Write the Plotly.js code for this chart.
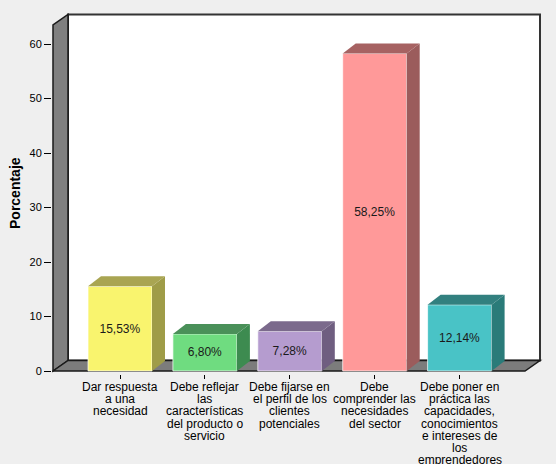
<!DOCTYPE html>
<html><head><meta charset="utf-8">
<script src="https://cdn.plot.ly/plotly-3.0.1.min.js"></script>
<style>html,body{margin:0;padding:0;background:#efefef}</style>
</head><body><div id="chart" style="width:556px;height:464px"></div>
<script>
const categories = [
  "Dar respuesta a una necesidad",
  "Debe reflejar las características del producto o servicio",
  "Debe fijarse en el perfil de los clientes potenciales",
  "Debe comprender las necesidades del sector",
  "Debe poner en práctica las capacidades, conocimientos e intereses de los emprendedores"
];
const tickLines = [
  ["Dar respuesta", "a una", "necesidad"],
  ["Debe reflejar", "las", "características", "del producto o", "servicio"],
  ["Debe fijarse en", "el perfil de los", "clientes", "potenciales"],
  ["Debe", "comprender las", "necesidades", "del sector"],
  ["Debe poner en", "práctica las", "capacidades,", "conocimientos", "e intereses de", "los", "emprendedores"]
];
const values = [15.53, 6.80, 7.28, 58.25, 12.14];
const yTicks = [0, 10, 20, 30, 40, 50, 60];

const frontColors = ['#f9f46e', '#6fdc80', '#b59ccf', '#ff9999', '#49c3c6'];
const sideColors  = ['#9f9c48', '#3d8b50', '#6f5e80', '#9b5c5c', '#2a7b79'];
const topColors   = ['#a9a552', '#4a9059', '#7b6a8c', '#a66262', '#32807f'];

// geometry (styling)
const pxX = 84.9, pxY = 5.45;
const xLeft = (52 - 120) / pxX, xRight = xLeft + 491 / pxX;
const yBottom = -3 / pxY, yTop = (371 - 12) / pxY;
const x0 = (53 - 120) / pxX;           // front-left edge
const xR = (540 - 120) / pxX;          // back-right edge
const wdx = 15 / pxX, wdy = 10.5 / pxY; // wall depth
const bdx = 13 / pxX, bdy = 10 / pxY;   // bar depth
const bw = 64 / pxX;                    // bar width
const frontTop = (371 - 25) / pxY;

const xs = values.map((v, i) => i);
const labels = values.map(v => v.toFixed(2).replace('.', ',') + '%');

const traces = [];
traces.push({
  type: 'bar', x: xs, y: values, width: bw, base: 0,
  marker: {color: frontColors, line: {color: 'rgba(255,255,255,0.7)', width: 1}},
  text: labels, textposition: 'inside', insidetextanchor: 'middle',
  textangle: 0, constraintext: 'none',
  textfont: {family: 'Liberation Sans, Arial, sans-serif', size: 12, color: '#1a1a1a'},
  hoverinfo: 'skip', showlegend: false
});
values.forEach((v, i) => {
  const l = i - bw / 2, r = i + bw / 2;
  traces.push({
    type: 'scatter', mode: 'lines', fill: 'toself', fillcolor: sideColors[i],
    x: [r, r + bdx, r + bdx, r, r], y: [0, bdy, v + bdy, v, 0],
    line: {width: 0}, hoverinfo: 'skip', showlegend: false
  });
  traces.push({
    type: 'scatter', mode: 'lines', fill: 'toself', fillcolor: topColors[i],
    x: [l, r, r + bdx, l + bdx, l], y: [v, v, v + bdy, v + bdy, v],
    line: {width: 0}, hoverinfo: 'skip', showlegend: false
  });
});

const P = (pts) => 'M ' + pts.map(p => p[0] + ',' + p[1]).join(' L ') + ' Z';
const shapes = [
  {type: 'rect', xref: 'x', yref: 'y', layer: 'below',
   x0: x0 + wdx, x1: xR, y0: wdy, y1: frontTop + wdy,
   fillcolor: '#ffffff', line: {color: '#333333', width: 2}},
  {type: 'path', xref: 'x', yref: 'y', layer: 'below',
   path: P([[x0, 0], [x0, frontTop], [x0 + wdx, frontTop + wdy], [x0 + wdx, wdy]]),
   fillcolor: '#808080', line: {color: '#1a1a1a', width: 1.5}},
  {type: 'path', xref: 'x', yref: 'y', layer: 'below',
   path: P([[x0, 0], [x0 + wdx, wdy], [xR, wdy], [xR - wdx, 0]]),
   fillcolor: '#7c7c7c', line: {color: '#1a1a1a', width: 1.5}}
];

const annotations = [];
tickLines.forEach((lines, i) => {
  lines.forEach((t, j) => {
    annotations.push({
      x: i, xref: 'x', y: 0, yref: 'y', yanchor: 'middle', xanchor: 'center',
      yshift: -(16 + j * 12.2), text: t, showarrow: false, borderpad: 0,
      font: {family: 'Liberation Sans, Arial, sans-serif', size: 12, color: '#000'}
    });
  });
});
annotations.push({
  x: 0, xref: 'paper', xshift: -37, xanchor: 'center',
  y: 0.5, yref: 'paper', yanchor: 'middle', textangle: -90,
  text: '<b>Porcentaje</b>', showarrow: false,
  font: {family: 'Liberation Sans, Arial, sans-serif', size: 14, color: '#000'}
});

const layout = {
  width: 556, height: 464,
  margin: {l: 52, r: 13, t: 12, b: 90},
  paper_bgcolor: '#efefef', plot_bgcolor: 'rgba(0,0,0,0)',
  showlegend: false, hovermode: false, bargap: 0,
  xaxis: {range: [xLeft, xRight], tickvals: xs, ticktext: categories,
          showticklabels: false, ticks: 'outside', ticklen: 4, tickcolor: '#000',
          showgrid: false, zeroline: false, showline: false, fixedrange: true},
  yaxis: {range: [yBottom, yTop], tickvals: yTicks, ticks: 'outside', ticklen: 7,
          tickcolor: '#000', tickfont: {family: 'Liberation Sans, Arial, sans-serif', size: 11, color: '#000'},
          showgrid: false, zeroline: false, showline: false, fixedrange: true},
  shapes: shapes, annotations: annotations
};

Plotly.newPlot('chart', traces, layout, {staticPlot: true, displayModeBar: false});
</script></body></html>
